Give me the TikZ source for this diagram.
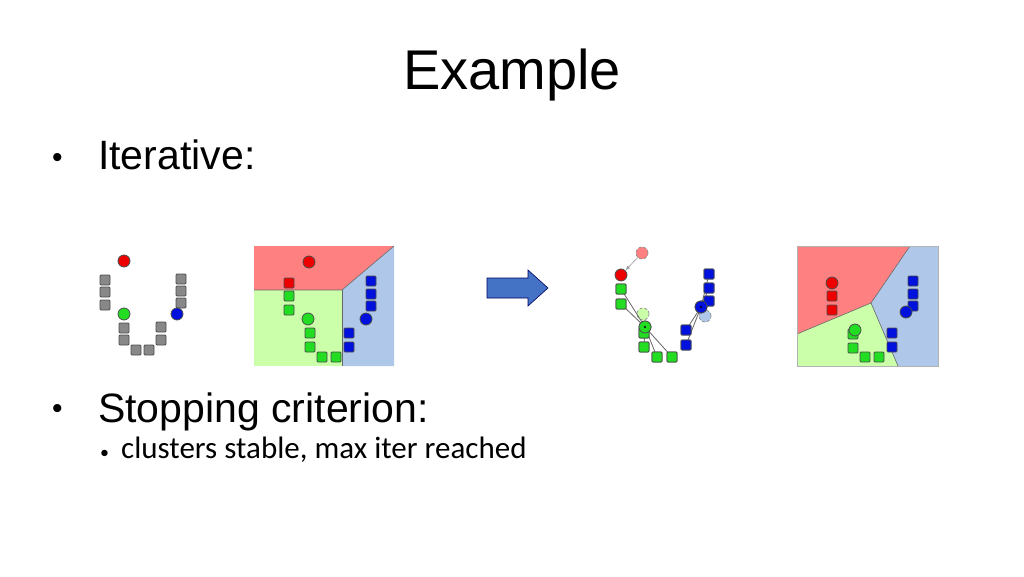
\documentclass[tikz,border=0pt]{standalone}
\usepackage{fontspec}
\setmainfont{Liberation Sans}
\newfontfamily\carlitofont{Carlito}
\definecolor{pr}{HTML}{FF8080}
\definecolor{pg}{HTML}{CCFFAA}
\definecolor{pb}{HTML}{AFC7E8}
\definecolor{dr}{HTML}{EE0000}
\definecolor{dg}{HTML}{22DD22}
\definecolor{db}{HTML}{0010DD}
\definecolor{gy}{HTML}{888888}
\definecolor{arrblue}{RGB}{68,114,196}
\tikzset{
 sq/.style={draw=black!70,line width=0.8pt,rounded corners=1pt,minimum size=10pt,inner sep=0pt,fill=#1},
 dot/.style={circle,draw=black!70,line width=0.8pt,minimum size=12pt,inner sep=0pt,fill=#1},
 ghost/.style={circle,draw=black!45,densely dashed,line width=0.7pt,minimum size=12pt,inner sep=0pt,fill=#1},
 reg/.style={draw=black!60,line width=0.6pt},
 lnk/.style={draw=black!60,line width=0.8pt},
 txt/.style={anchor=base west,inner sep=0pt}
}
\begin{document}
\begin{tikzpicture}[x=1pt,y=-1pt]
\useasboundingbox[fill=white] (0,0) rectangle (1024,577);
\node (title) at (512,75) {\fontsize{56}{56}\selectfont Example};
\node[txt] (b1) at (52,168) {\fontsize{30}{30}\selectfont •};
\node[txt] (t1) at (98,170) {\fontsize{41}{41}\selectfont Iterative:};
\node[txt] (b2) at (52,418) {\fontsize{30}{30}\selectfont •};
\node[txt] (t2) at (98,422) {\fontsize{41}{41}\selectfont Stopping criterion:};
\node[txt] (b3) at (100,458) {\carlitofont\fontsize{18}{18}\selectfont •};
\node[txt] (t3) at (121,458) {\carlitofont\fontsize{31}{31}\selectfont clusters stable, max iter reached};
% panel 1
\foreach \x/\y [count=\i] in {105/280,105/292,105/305,181/279,181/291,181/303,124/328,124/340,136/350,149/350,161/327,161/340}
  \node[sq=gy] (a\i) at (\x,\y) {};
\node[dot=dr] (ar) at (124,261) {};
\node[dot=dg] (ag) at (124,314) {};
\node[dot=db] (ab) at (177,314) {};
% panel 2
\fill[pr] (254,246) -- (394,246) -- (342,290) -- (254,290) -- cycle;
\fill[pg] (254,290) -- (342,290) -- (342,366) -- (254,366) -- cycle;
\fill[pb] (342,290) -- (394,246) -- (394,366) -- (342,366) -- cycle;
\draw[reg] (254,290) -- (342,290) -- (394,246);
\draw[reg] (342,290) -- (342,366);
\node[sq=dr] (b1s) at (289,283) {};
\foreach \x/\y [count=\i] in {289/296,289/310,310/333,310/347,322/357,336/357}
  \node[sq=dg] (bg\i) at (\x,\y) {};
\foreach \x/\y [count=\i] in {371/281,371/294,371/306,349/333,349/347}
  \node[sq=db] (bb\i) at (\x,\y) {};
\node[dot=dr] (br) at (309,262) {};
\node[dot=dg] (bg) at (308,319) {};
\node[dot=db] (bb) at (366,319) {};
% arrow
\filldraw[fill=arrblue,draw=blue!40!black,line width=0.6pt]
  (487,278) -- (528,278) -- (528,270) -- (548,288) -- (528,306) -- (528,298) -- (487,298) -- cycle;
% panel 3
\node[ghost=pr] (cr0) at (642,253) {};
\node[ghost=pg] (cg0) at (643,314) {};
\node[ghost=pb] (cb0) at (705,316) {};
\node[dot=dr] (cr) at (621,275) {};
\draw[black!40,line width=0.6pt,-latex] (cr0) -- (cr);
\node[dot=dg] (cg) at (645,327) {};
\node[dot=db] (cb) at (701,307) {};
\foreach \x/\y [count=\i] in {621/289,621/304,644/347,657/357,672/357}
  {\node[sq=dg] (cgs\i) at (\x,\y) {}; \draw[lnk] (cg.center) -- (cgs\i.center);}
\node[sq=dg] (cgs6) at (644,333) {};
\foreach \x/\y [count=\i] in {709/274,709/288,709/301,686/330,686/345}
  {\node[sq=db] (cbs\i) at (\x,\y) {}; \draw[lnk] (cb.center) -- (cbs\i.center);}
\foreach \i in {1,...,6} \node[sq=dg] at (cgs\i) {};
\foreach \i in {1,...,5} \node[sq=db] at (cbs\i) {};
\node[dot=dg] at (cg) {};
\fill (cg) circle (1.2pt);
\node[dot=db] at (cb) {};
\fill (cb) circle (1.2pt);
% panel 4
\fill[pr] (797,246) -- (910,246) -- (871,303) -- (797,334) -- cycle;
\fill[pg] (797,334) -- (871,303) -- (898,366) -- (797,366) -- cycle;
\fill[pb] (910,246) -- (938,246) -- (938,366) -- (898,366) -- (871,303) -- cycle;
\draw[reg] (797,334) -- (871,303) -- (910,246);
\draw[reg] (871,303) -- (898,366);
\draw[black!30,line width=0.6pt] (797,246) rectangle (938,366);
\foreach \x/\y [count=\i] in {832/296,832/310}
  \node[sq=dr] (dr\i) at (\x,\y) {};
\foreach \x/\y [count=\i] in {853/334,853/348,865/357,879/357}
  \node[sq=dg] (dg\i) at (\x,\y) {};
\foreach \x/\y [count=\i] in {913/281,913/294,913/306,892/333,892/347}
  \node[sq=db] (db\i) at (\x,\y) {};
\node[dot=dr] (drc) at (832,283) {};
\node[dot=dg] (dgc) at (855,330) {};
\node[dot=db] (dbc) at (906,312) {};
\end{tikzpicture}
\end{document}
